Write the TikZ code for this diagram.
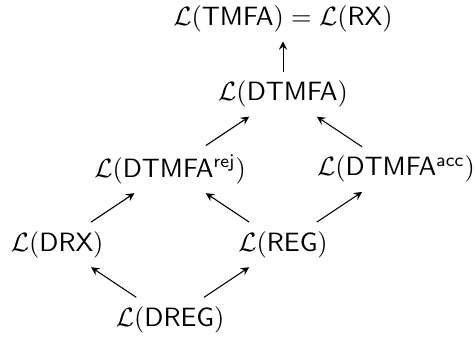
\documentclass[tikz,border=0pt]{standalone}
\usepackage{amssymb}
\usepackage{amsmath}
\usepackage{tikz}
\usetikzlibrary{arrows,positioning}
\tikzset{%
	lang/.style    = {inner sep=0.333em}, % language class
	incl/.style    = {-stealth}, % inclusion
}
\newcommand{\Lang}[1]{\mathcal{L}(\mathsf{#1})}

\begin{document}
\begin{tikzpicture}[node distance = 1cm and 1.5cm, on grid]
	\useasboundingbox (-2.26,-0.25) rectangle (4.05,4.25);
	\node[lang] (dreg) {$ \Lang{DREG} $};
	\node[lang,above left=of dreg] (drx) {$ \Lang{DRX} $};
	\node[lang,above right=of dreg] (reg) {$ \Lang{REG} $};
	\node[lang,above right=of drx] (rej) {$ \Lang{DTMFA^{rej}} $};
	\node[lang,above right=of reg] (acc) {$ \Lang{DTMFA^{acc}} $};
	\node[lang,above right=of rej] (dtmfa) {$ \Lang{DTMFA} $};
	\node[lang,above=of dtmfa] (tmfa) {$ \Lang{TMFA} = \Lang{RX} $};
	
	\draw[incl] (dreg) -- (drx);
	\draw[incl] (dreg) -- (reg);
	\draw[incl] (drx) -- (rej);
	\draw[incl] (reg) -- (rej);
	\draw[incl] (reg) -- (acc);
	\draw[incl] (rej) -- (dtmfa);
	\draw[incl] (acc) -- (dtmfa);
	\draw[incl] (dtmfa) -- (tmfa);
\end{tikzpicture}
\end{document}
